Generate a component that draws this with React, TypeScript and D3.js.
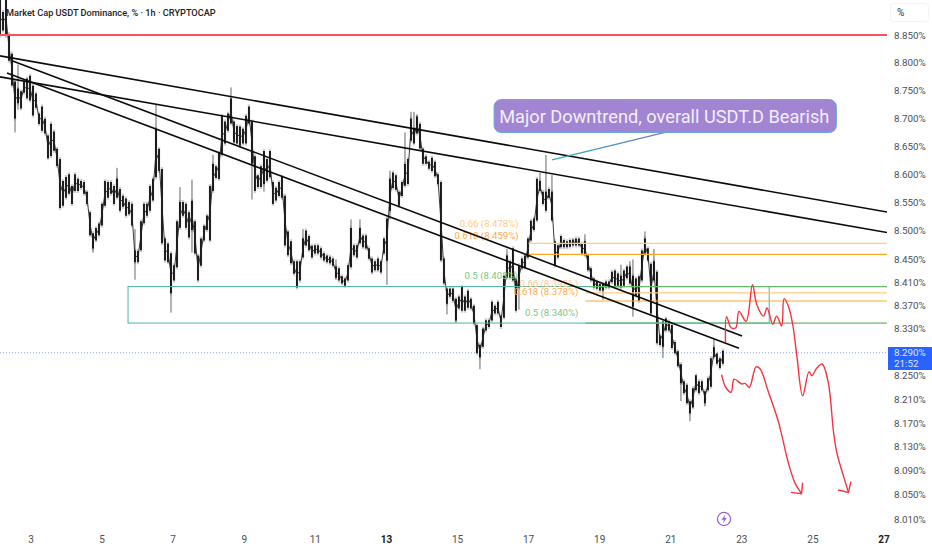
import * as d3 from "d3";

const WIDTH = 932;
const HEIGHT = 550;
const PLOT_RIGHT = 887;

const priceTicks = [8.85, 8.8, 8.75, 8.7, 8.65, 8.6, 8.55, 8.5, 8.45, 8.41, 8.37, 8.33, 8.25, 8.21, 8.17, 8.13, 8.09, 8.05, 8.01];
const dayTicks = [3, 5, 7, 9, 11, 13, 15, 17, 19, 21, 23, 25, 27];
const boldDays = [13, 27];

const candleStart = 2.128;
const candleStep = 0.0844;

const bodyHigh = [
  8.913, 8.89, 8.913, 8.85, 8.814, 8.764, 8.751, 8.746, 8.764, 8.769, 8.774, 8.756, 8.742, 8.706, 8.719, 8.697, 8.667, 8.688, 8.674, 8.643,
  8.625, 8.586, 8.593, 8.598, 8.577, 8.598, 8.59, 8.586, 8.584, 8.567, 8.531, 8.494, 8.503, 8.511, 8.546, 8.586, 8.584, 8.584, 8.577, 8.59,
  8.572, 8.56, 8.555, 8.549, 8.546, 8.464, 8.463, 8.515, 8.546, 8.546, 8.577, 8.59, 8.679, 8.643, 8.607, 8.485, 8.476, 8.459, 8.438, 8.515,
  8.549, 8.549, 8.546, 8.531, 8.551, 8.515, 8.455, 8.485, 8.507, 8.525, 8.577, 8.616, 8.612, 8.636, 8.702, 8.692, 8.706, 8.733, 8.692, 8.684,
  8.683, 8.679, 8.702, 8.719, 8.692, 8.63, 8.596, 8.612, 8.639, 8.625, 8.639, 8.584, 8.574, 8.584, 8.593, 8.56, 8.497, 8.48, 8.445, 8.445,
  8.445, 8.485, 8.499, 8.489, 8.472, 8.473, 8.473, 8.468, 8.459, 8.455, 8.453, 8.45, 8.436, 8.433, 8.419, 8.415, 8.438, 8.503, 8.473, 8.473,
  8.503, 8.49, 8.49, 8.468, 8.45, 8.445, 8.45, 8.445, 8.485, 8.52, 8.59, 8.601, 8.596, 8.567, 8.584, 8.616, 8.625, 8.697, 8.679, 8.701,
  8.688, 8.643, 8.63, 8.62, 8.627, 8.62, 8.598, 8.584, 8.45, 8.398, 8.398, 8.398, 8.38, 8.384, 8.401, 8.384, 8.394, 8.38, 8.368, 8.335,
  8.301, 8.329, 8.343, 8.343, 8.375, 8.368, 8.375, 8.351, 8.42, 8.455, 8.445, 8.468, 8.415, 8.438, 8.45, 8.455, 8.485, 8.516, 8.52, 8.59,
  8.586, 8.567, 8.567, 8.572, 8.567, 8.48, 8.473, 8.489, 8.482, 8.48, 8.482, 8.483, 8.485, 8.485, 8.476, 8.48, 8.455, 8.433, 8.415, 8.41,
  8.406, 8.406, 8.41, 8.41, 8.427, 8.429, 8.424, 8.42, 8.429, 8.436, 8.436, 8.42, 8.415, 8.419, 8.464, 8.485, 8.468, 8.441, 8.445, 8.427,
  8.317, 8.341, 8.346, 8.341, 8.335, 8.306, 8.29, 8.268, 8.239, 8.233, 8.205, 8.227, 8.249, 8.239, 8.239, 8.222, 8.244, 8.278, 8.297, 8.286,
  8.278, 8.291,
];
const bodyLow = [
  8.85, 8.86, 8.85, 8.805, 8.76, 8.701, 8.728, 8.719, 8.747, 8.737, 8.733, 8.706, 8.72, 8.691, 8.679, 8.674, 8.63, 8.634, 8.643, 8.616,
  8.542, 8.546, 8.56, 8.567, 8.549, 8.572, 8.572, 8.577, 8.567, 8.549, 8.494, 8.471, 8.485, 8.494, 8.511, 8.546, 8.56, 8.567, 8.549, 8.56,
  8.537, 8.544, 8.528, 8.531, 8.511, 8.447, 8.447, 8.468, 8.515, 8.528, 8.537, 8.555, 8.596, 8.607, 8.48, 8.45, 8.447, 8.393, 8.415, 8.438,
  8.507, 8.528, 8.507, 8.49, 8.503, 8.462, 8.415, 8.441, 8.485, 8.503, 8.485, 8.572, 8.595, 8.593, 8.636, 8.656, 8.679, 8.692, 8.658, 8.656,
  8.652, 8.656, 8.656, 8.692, 8.62, 8.572, 8.579, 8.579, 8.584, 8.59, 8.596, 8.549, 8.555, 8.563, 8.56, 8.476, 8.459, 8.445, 8.427, 8.403,
  8.415, 8.455, 8.476, 8.468, 8.455, 8.462, 8.462, 8.455, 8.45, 8.447, 8.445, 8.441, 8.42, 8.415, 8.41, 8.406, 8.415, 8.438, 8.459, 8.455,
  8.48, 8.473, 8.471, 8.453, 8.429, 8.433, 8.433, 8.429, 8.462, 8.45, 8.537, 8.577, 8.574, 8.546, 8.563, 8.581, 8.584, 8.661, 8.656, 8.674,
  8.647, 8.62, 8.62, 8.611, 8.607, 8.598, 8.584, 8.45, 8.41, 8.375, 8.387, 8.38, 8.346, 8.367, 8.363, 8.363, 8.368, 8.367, 8.341, 8.29,
  8.283, 8.301, 8.329, 8.335, 8.346, 8.358, 8.358, 8.335, 8.351, 8.42, 8.42, 8.415, 8.363, 8.403, 8.436, 8.438, 8.455, 8.485, 8.503, 8.52,
  8.572, 8.549, 8.537, 8.56, 8.52, 8.441, 8.455, 8.473, 8.473, 8.473, 8.474, 8.476, 8.476, 8.476, 8.462, 8.459, 8.433, 8.415, 8.403, 8.401,
  8.398, 8.398, 8.403, 8.403, 8.412, 8.406, 8.406, 8.403, 8.406, 8.419, 8.41, 8.37, 8.389, 8.38, 8.415, 8.462, 8.45, 8.358, 8.415, 8.307,
  8.304, 8.301, 8.329, 8.329, 8.299, 8.29, 8.268, 8.239, 8.222, 8.205, 8.188, 8.198, 8.227, 8.222, 8.227, 8.205, 8.227, 8.233, 8.283, 8.272,
  8.265, 8.272,
];

// long wicks, by candle number
const wickCandle = [5, 6, 31, 39, 45, 52, 57, 60, 64, 71, 77, 84, 88, 101, 112, 117, 120, 129, 130, 135, 137, 138, 139, 149, 152, 160, 169, 172, 173, 180, 182, 184, 195, 201, 207, 210, 211, 215, 218, 221, 227, 230, 235, 238];
const wickHigh = [8.764, 8.796, 8.494, 8.611, 8.503, 8.724, 8.459, 8.577, 8.59, 8.634, 8.755, 8.692, 8.639, 8.503, 8.45, 8.52, 8.52, 8.52, 8.606, 8.674, 8.711, 8.711, 8.706, 8.398, 8.38, 8.301, 8.468, 8.415, 8.438, 8.602, 8.634, 8.598, 8.494, 8.406, 8.441, 8.447, 8.45, 8.499, 8.468, 8.341, 8.268, 8.205, 8.222, 8.313];
const wickLow = [8.674, 8.715, 8.462, 8.56, 8.415, 8.596, 8.358, 8.507, 8.462, 8.572, 8.692, 8.555, 8.569, 8.455, 8.415, 8.438, 8.48, 8.406, 8.52, 8.581, 8.661, 8.656, 8.674, 8.355, 8.341, 8.261, 8.42, 8.363, 8.363, 8.572, 8.537, 8.52, 8.459, 8.38, 8.403, 8.41, 8.351, 8.462, 8.415, 8.28, 8.207, 8.173, 8.198, 8.283];

const trendDays = [[2.128, 27.086], [2.128, 27.086], [2.465, 23.006], [2.325, 22.92]];
const trendValues = [[8.812, 8.533], [8.774, 8.497], [8.803, 8.318], [8.781, 8.297]];

const zoneDays = [5.73, 23.77];
const zoneValues = [8.403, 8.34];

const fibStart = [17.0, 17.0, 18.7, 18.6, 18.6, 18.6];
const fibValues = [8.478, 8.459, 8.403, 8.392, 8.378, 8.34];
const fibLabels = ["0.66 (8.478%)", "0.618 (8.459%)", "0.5 (8.403%)", "0.66 (8.392%)", "0.618 (8.378%)", "0.5 (8.340%)"];
const fibLabelDay = [16.72, 16.72, 16.7, 18.4, 18.4, 18.4];
const fibLabelValue = [8.506, 8.486, 8.416, 8.402, 8.388, 8.352];
const fibColors = ["#ffcc80", "#ffa726", "#66bb6a", "#ffcc80", "#ffa726", "#66bb6a"];
const fibTextColors = ["#ffc98a", "#ffaa4d", "#81c784", "#ffc98a", "#ffaa4d", "#81c784"];

const pathADays = [22.54, 22.57, 22.7, 22.83, 22.92, 23.12, 23.3, 23.42, 23.61, 23.71, 23.87, 23.98, 24.12, 24.19, 24.31, 24.43, 24.55, 24.71, 24.89, 24.97, 25.11, 25.26, 25.43, 25.58, 25.67, 25.86, 26.0];
const pathAValues = [8.307, 8.351, 8.332, 8.332, 8.36, 8.343, 8.406, 8.372, 8.352, 8.366, 8.338, 8.352, 8.335, 8.382, 8.369, 8.338, 8.283, 8.216, 8.257, 8.25, 8.263, 8.27, 8.239, 8.155, 8.121, 8.081, 8.054];
const arrowADays = [25.71, 26.0, 26.07];
const arrowAValues = [8.058, 8.054, 8.072];

const pathBDays = [22.43, 22.55, 22.7, 22.78, 23.0, 23.09, 23.21, 23.4, 23.51, 23.75, 24.03, 24.31, 24.5, 24.68];
const pathBValues = [8.252, 8.23, 8.222, 8.244, 8.236, 8.237, 8.23, 8.265, 8.262, 8.222, 8.172, 8.103, 8.069, 8.052];
const arrowBDays = [24.38, 24.68, 24.71];
const arrowBValues = [8.054, 8.052, 8.07];

const lastPrice = 8.29;
const resistance = 8.85;
const calloutDays = [16.03, 25.66];
const calloutValues = [8.733, 8.674];
const pointerDays = [17.66, 20.84];
const pointerValues = [8.625, 8.674];

const x = d3.scaleLinear().domain([3, 27]).range([31, 884]);
const y = d3.scaleLog().domain([8.85, 8.01]).range([35, 519]);

const smooth = d3
  .line<number>()
  .x((d) => x(d))
  .curve(d3.curveCatmullRom.alpha(0.5));

const redPath = (days: number[], values: number[]) =>
  smooth.y((_, i) => y(values[i]))(days) || "";
const arrowPath = (days: number[], values: number[]) =>
  d3
    .line<number>()
    .x((d) => x(d))
    .y((_, i) => y(values[i]))(days) || "";

const FONT = "Roboto, 'Liberation Sans', sans-serif";
const RED = "#f5333f";

export default function App() {
  const candleX = (i: number) => x(candleStart + i * candleStep);
  return (
    <svg
      width={WIDTH}
      height={HEIGHT}
      style={{ position: "absolute", left: 0, top: 0, background: "#fff" }}
      fontFamily={FONT}
    >
      <defs>
        <clipPath id="plot">
          <rect x={0} y={0} width={PLOT_RIGHT} height={525} />
        </clipPath>
        <linearGradient id="pointer" x1="0" x2="1" y1="0" y2="0">
          <stop offset="0" stopColor="#2fb0b5" />
          <stop offset="0.6" stopColor="#4a8fc9" />
          <stop offset="1" stopColor="#8b6cc9" />
        </linearGradient>
      </defs>

      <g clipPath="url(#plot)">
        <line
          x1={0}
          x2={PLOT_RIGHT}
          y1={y(lastPrice) + 0.5}
          y2={y(lastPrice) + 0.5}
          stroke="#82a5f5"
          strokeWidth={1}
          strokeDasharray="1 2"
        />

        {/* grey halo of the hourly wicks */}
        {bodyHigh.map((h, i) => (
          <line
            key={i}
            x1={candleX(i)}
            x2={candleX(i)}
            y1={y(h) - 3}
            y2={y(bodyLow[i]) + 3}
            stroke="#777"
            strokeWidth={2.4}
            opacity={0.35}
          />
        ))}
        {wickCandle.map((c, i) => (
          <line
            key={i}
            x1={candleX(c)}
            x2={candleX(c)}
            y1={y(wickHigh[i])}
            y2={y(wickLow[i])}
            stroke="#555"
            strokeWidth={0.9}
          />
        ))}
        {bodyHigh.map((h, i) => (
          <line
            key={i}
            x1={candleX(i)}
            x2={candleX(i)}
            y1={y(h) - 1}
            y2={y(bodyLow[i]) + 1}
            stroke="#0c0c0c"
            strokeWidth={1.8}
          />
        ))}
        {/* joins the bars so it reads as hourly candles */}
        <path
          d={
            d3
              .line<number>()
              .x((_, i) => candleX(i))
              .y((d, i) => y((d + bodyLow[i]) / 2))(bodyHigh) || ""
          }
          fill="none"
          stroke="#222"
          strokeWidth={0.9}
        />

        <line x1={0} x2={PLOT_RIGHT} y1={y(resistance)} y2={y(resistance)} stroke="#f7525f" strokeWidth={2} />

        <rect
          x={x(zoneDays[0])}
          y={y(zoneValues[0])}
          width={x(zoneDays[1]) - x(zoneDays[0])}
          height={y(zoneValues[1]) - y(zoneValues[0])}
          fill="none"
          stroke="#4db6a0"
          strokeWidth={1}
        />

        {fibValues.map((v, i) => (
          <g key={i}>
            <line
              x1={x(fibStart[i])}
              x2={PLOT_RIGHT}
              y1={y(v)}
              y2={y(v)}
              stroke={fibColors[i]}
              strokeWidth={1.2}
            />
            <text
              x={x(fibLabelDay[i])}
              y={y(fibLabelValue[i])}
              textAnchor="end"
              fontSize={9.6}
              fill={fibTextColors[i]}
            >
              {fibLabels[i]}
            </text>
          </g>
        ))}

        {trendDays.map((d, i) => (
          <line
            key={i}
            x1={x(d[0])}
            x2={x(d[1])}
            y1={y(trendValues[i][0])}
            y2={y(trendValues[i][1])}
            stroke="#0b0b0b"
            strokeWidth={1.6}
          />
        ))}

        <path d={redPath(pathADays, pathAValues)} fill="none" stroke={RED} strokeWidth={1.4} />
        <path d={arrowPath(arrowADays, arrowAValues)} fill="none" stroke={RED} strokeWidth={1.4} />
        <path d={redPath(pathBDays, pathBValues)} fill="none" stroke={RED} strokeWidth={1.4} />
        <path d={arrowPath(arrowBDays, arrowBValues)} fill="none" stroke={RED} strokeWidth={1.4} />

        <line
          x1={x(pointerDays[0])}
          x2={x(pointerDays[1])}
          y1={y(pointerValues[0])}
          y2={y(pointerValues[1])}
          stroke="url(#pointer)"
          strokeWidth={1.3}
        />
        <rect
          x={x(calloutDays[0])}
          y={y(calloutValues[0])}
          width={x(calloutDays[1]) - x(calloutDays[0])}
          height={y(calloutValues[1]) - y(calloutValues[0])}
          rx={7}
          fill="#a285d2"
          stroke="#6aa6d8"
          strokeWidth={1}
        />
        <text
          x={(x(calloutDays[0]) + x(calloutDays[1])) / 2 - 1}
          y={(y(calloutValues[0]) + y(calloutValues[1])) / 2 + 6.5}
          textAnchor="middle"
          fontSize={18.2}
          fill="#f3eefb"
        >
          Major Downtrend, overall USDT.D Bearish
        </text>
      </g>

      <text x={6} y={15.5} fontSize={9.2} fontWeight={500} fill="#222">
        Market Cap USDT Dominance, % · 1h · CRYPTOCAP
      </text>

      {/* price axis */}
      <rect x={890.5} y={3.5} width={38} height={18} rx={3} fill="#fff" stroke="#f0f3fa" />
      <text x={897} y={16} fontSize={10} fill="#333">
        %
      </text>
      {priceTicks.map((t) => (
        <text key={t} x={894} y={y(t) + 3.6} fontSize={9.8} fill="#4a4e57">
          {d3.format(".3f")(t)}%
        </text>
      ))}
      <rect x={888} y={347} width={44} height={23} fill="#2962ff" />
      <text x={894} y={356} fontSize={9.8} fill="#dfe7ff">
        {d3.format(".3f")(lastPrice)}%
      </text>
      <text x={894} y={367.4} fontSize={9.8} fill="#dfe7ff">
        21:52
      </text>

      {/* time axis */}
      {dayTicks.map((d) => (
        <text
          key={d}
          x={x(d)}
          y={543}
          textAnchor="middle"
          fontSize={10}
          fontWeight={boldDays.includes(d) ? 700 : 400}
          fill={boldDays.includes(d) ? "#222" : "#4a4e57"}
        >
          {d}
        </text>
      ))}

      {/* earnings style marker */}
      <circle cx={724} cy={519} r={6.6} fill="#fff" stroke="#9363c9" strokeWidth={1.2} />
      <path d="M725.5 514.5 L721.5 519.8 L724 519.8 L722.8 523.5 L726.8 518 L724.3 518 Z" fill="#9363c9" />
    </svg>
  );
}
